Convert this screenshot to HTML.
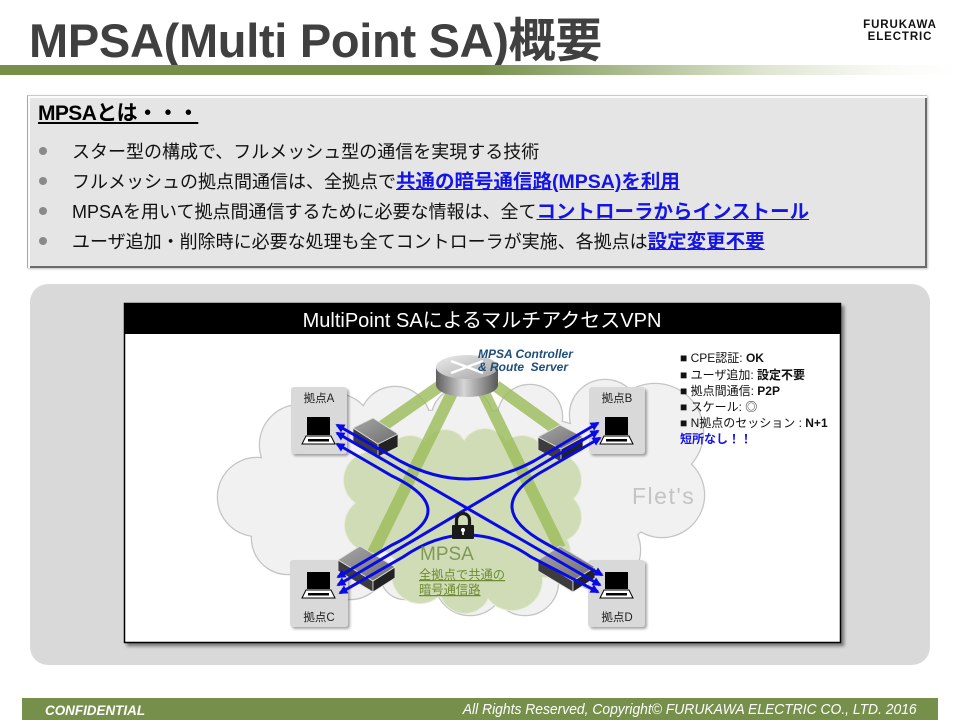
<!DOCTYPE html>
<html><head><meta charset="utf-8">
<style>
*{margin:0;padding:0;box-sizing:border-box}
html,body{width:960px;height:720px;background:#fff;overflow:hidden}
body{position:relative;font-family:"Liberation Sans","Noto Sans CJK JP",sans-serif;color:#000}
.abs{position:absolute}
#title{left:29px;top:17px;font-size:47px;line-height:47px;font-weight:bold;color:#404040;letter-spacing:-0.3px;white-space:nowrap}
#gbar{left:0;top:65px;width:960px;height:10px;background:linear-gradient(to right,#76904c 0%,#76904c 50%,#a3b585 63%,#dfe6d2 80%,#fafbf7 93%,#fff 100%)}
#logo{left:858px;top:19px;width:84px;text-align:center;font-weight:bold;font-size:11.5px;line-height:12px;letter-spacing:0.9px;color:#111}
#box{left:27px;top:95px;width:900px;height:173px;background:#e5e5e5;border-top:1px solid #c8c8c8;border-left:1px solid #a8a8a8;box-shadow:inset 2px 2px 0 #fbfbfb,inset -2px -2px 0 #6a6a6a,1px 1px 2px rgba(0,0,0,.25)}
#boxt{left:38px;top:102px;font-size:21px;line-height:24px;font-weight:bold;text-decoration:underline;letter-spacing:-0.6px;white-space:nowrap}
.bl{position:absolute;left:72px;font-size:18px;line-height:30px;white-space:nowrap;color:#111}
.bl b{font-size:19.5px;color:#1414e6;text-decoration:underline;font-weight:bold}
.dot{position:absolute;left:39px;width:8px;height:8px;border-radius:50%;background:#8a8a8a}
#foot{left:22px;top:698px;width:916px;height:22px;background:#76904c}
#conf{left:45px;top:702px;font-size:14px;line-height:16px;font-weight:bold;font-style:italic;color:#fff;transform:scaleX(0.96);transform-origin:left top;white-space:nowrap}
#copy{right:43px;top:702px;font-size:15px;line-height:16px;font-style:italic;color:#fff;transform:scaleX(0.925);transform-origin:right top;white-space:nowrap}
svg text{font-family:"Liberation Sans","Noto Sans CJK JP",sans-serif}
</style></head><body>

<div id="title" class="abs">MPSA(Multi Point SA)概要</div>
<div id="gbar" class="abs"></div>
<div id="logo" class="abs">FURUKAWA<br>ELECTRIC</div>

<div id="box" class="abs"></div>
<div id="boxt" class="abs">MPSAとは・・・</div>
<div class="dot" style="top:147px"></div>
<div class="dot" style="top:177px"></div>
<div class="dot" style="top:207px"></div>
<div class="dot" style="top:237px"></div>
<div class="bl" style="top:137px">スター型の構成で、フルメッシュ型の通信を実現する技術</div>
<div class="bl" style="top:167px">フルメッシュの拠点間通信は、全拠点で<b>共通の暗号通信路(MPSA)を利用</b></div>
<div class="bl" style="top:197px">MPSAを用いて拠点間通信するために必要な情報は、全て<b>コントローラからインストール</b></div>
<div class="bl" style="top:227px">ユーザ追加・削除時に必要な処理も全てコントローラが実施、各拠点は<b>設定変更不要</b></div>

<svg class="abs" style="left:0;top:0" width="960" height="720" viewBox="0 0 960 720">
<defs>
<filter id="ds" x="-20%" y="-20%" width="150%" height="150%"><feDropShadow dx="2" dy="2" stdDeviation="1.3" flood-color="#000" flood-opacity="0.35"/></filter>
<filter id="ds2" x="-5%" y="-5%" width="110%" height="110%"><feDropShadow dx="3" dy="3" stdDeviation="1.5" flood-color="#000" flood-opacity="0.45"/></filter>
<linearGradient id="cyl" x1="0" x2="1" y1="0" y2="0"><stop offset="0" stop-color="#5e5e5e"/><stop offset="0.45" stop-color="#d6d6d6"/><stop offset="1" stop-color="#585858"/></linearGradient>
<linearGradient id="cyltop" x1="0" y1="0" x2="1" y2="1"><stop offset="0" stop-color="#ececec"/><stop offset="1" stop-color="#a4a4a4"/></linearGradient>
<linearGradient id="dtop" x1="0" y1="0" x2="1" y2="1"><stop offset="0" stop-color="#a6a6a6"/><stop offset="1" stop-color="#6e6e6e"/></linearGradient>
<marker id="ah" viewBox="0 0 10 10" refX="8" refY="5" markerUnits="userSpaceOnUse" markerWidth="10" markerHeight="9" orient="auto-start-reverse"><path d="M0,0 L10,5 L0,10 z" fill="#0a0ae6"/></marker>
<g id="gc">
<circle cx="300" cy="445" r="40"/><circle cx="257" cy="497" r="39"/><circle cx="288" cy="538" r="36"/><circle cx="350" cy="563" r="36"/><circle cx="405" cy="575" r="24"/><circle cx="470" cy="580" r="35"/><circle cx="525" cy="582" r="33"/><circle cx="600" cy="550" r="40"/><circle cx="662" cy="495" r="42"/><circle cx="655" cy="432" r="48"/><circle cx="605" cy="415" r="35"/><circle cx="530" cy="417" r="32"/><circle cx="462" cy="418" r="30"/><circle cx="395" cy="422" r="35"/><circle cx="335" cy="432" r="38"/><ellipse cx="460" cy="495" rx="200" ry="85"/>
</g>
<g id="grc">
<circle cx="372" cy="480" r="28"/><circle cx="372" cy="525" r="27"/><circle cx="410" cy="458" r="22"/><circle cx="445" cy="452" r="22"/><circle cx="485" cy="453" r="24"/><circle cx="522" cy="460" r="24"/><circle cx="555" cy="480" r="26"/><circle cx="556" cy="517" r="25"/><circle cx="545" cy="552" r="25"/><circle cx="512" cy="580" r="30"/><circle cx="465" cy="588" r="25"/><circle cx="420" cy="575" r="28"/><ellipse cx="465" cy="515" rx="95" ry="65"/>
</g>
</defs>

<rect x="30" y="284" width="900" height="381" rx="18" fill="#d9d9d9"/>
<rect x="124.5" y="303.5" width="716" height="339" fill="#fff" stroke="#000" stroke-width="1.5" filter="url(#ds2)"/>
<rect x="124" y="303" width="717" height="31" fill="#000"/>
<text x="482" y="327" text-anchor="middle" font-size="20" fill="#fff">MultiPoint SAによるマルチアクセスVPN</text>

<!-- clouds -->
<use href="#gc" fill="#c4c4c4" stroke="#c4c4c4" stroke-width="2.5"/>
<use href="#gc" fill="#f1f1f1"/>
<use href="#grc" fill="#e6ecda" stroke="#e6ecda" stroke-width="2"/>
<use href="#grc" fill="#cfdcb5"/>
<text x="632" y="504" font-size="23" fill="#c4c4c4" letter-spacing="1.5">Flet's</text>

<!-- green stripes -->
<g stroke="#9bbb59" stroke-opacity="0.8" stroke-width="12">
<line x1="440" y1="386" x2="367" y2="437"/>
<line x1="452" y1="393" x2="373" y2="553"/>
<line x1="484" y1="393" x2="560" y2="548"/>
<line x1="496" y1="386" x2="560" y2="432"/>
</g>

<!-- router -->
<path d="M436,367 L436,385 A31,12 0 0 0 498,385 L498,367 Z" fill="url(#cyl)"/>
<ellipse cx="467" cy="367" rx="31" ry="12" fill="url(#cyltop)"/>
<g stroke="#fff" stroke-width="2.5" fill="#fff">
<line x1="451" y1="361" x2="483" y2="373"/><line x1="451" y1="373" x2="483" y2="361"/>
</g>
<text x="478" y="358" font-size="12" font-weight="bold" font-style="italic" fill="#1f4e79">MPSA Controller</text>
<text x="478" y="371" font-size="12" font-weight="bold" font-style="italic" fill="#1f4e79" xml:space="preserve">&amp; Route  Server</text>

<!-- site boxes -->
<g fill="#d9d9d9" filter="url(#ds)">
<rect x="291" y="387" width="56" height="67" rx="3"/>
<rect x="589" y="387" width="56" height="67" rx="3"/>
<rect x="290" y="560" width="58" height="67" rx="3"/>
<rect x="588" y="560" width="57" height="67" rx="3"/>
</g>
<g font-size="11.5" fill="#222" text-anchor="middle">
<text x="319" y="402">拠点A</text>
<text x="617" y="402">拠点B</text>
<text x="319" y="621">拠点C</text>
<text x="617" y="621">拠点D</text>
</g>

<!-- laptops -->
<g>
<rect x="307" y="417" width="23" height="18" fill="#000"/>
<polygon points="306,436 331,436 335,444 302,444" fill="#fff" stroke="#000"/>
<rect x="308" y="439" width="21" height="2.5" fill="#000"/>
<rect x="605" y="417" width="23" height="18" fill="#000"/>
<polygon points="604,436 629,436 633,444 600,444" fill="#fff" stroke="#000"/>
<rect x="606" y="439" width="21" height="2.5" fill="#000"/>
<rect x="307" y="572" width="23" height="17" fill="#000"/>
<polygon points="306,590 331,590 335,598 302,598" fill="#fff" stroke="#000"/>
<rect x="308" y="593" width="21" height="2.5" fill="#000"/>
<rect x="605" y="572" width="23" height="17" fill="#000"/>
<polygon points="604,590 629,590 633,598 600,598" fill="#fff" stroke="#000"/>
<rect x="606" y="593" width="21" height="2.5" fill="#000"/>
</g>

<!-- devices -->
<g stroke="#e0e0e0" stroke-width="0.8" stroke-linejoin="round">
<polygon points="353,428 378,444 378,457 353,441" fill="#3c3c3c"/>
<polygon points="378,444 398,434 398,447 378,457" fill="#222"/>
<polygon points="353,428 373,418 398,434 378,444" fill="url(#dtop)"/>
<polygon points="538,437 561,449 561,462 538,450" fill="#3c3c3c"/>
<polygon points="561,449 583,437 583,450 561,462" fill="#222"/>
<polygon points="538,437 560,425 583,437 561,449" fill="url(#dtop)"/>
<polygon points="338,560 373,581 373,592 338,571" fill="#3c3c3c"/>
<polygon points="373,581 395,567 395,578 373,592" fill="#222"/>
<polygon points="338,560 360,546 395,567 373,581" fill="url(#dtop)"/>
<polygon points="538,560 573,581 573,592 538,571" fill="#3c3c3c"/>
<polygon points="573,581 595,567 595,578 573,592" fill="#222"/>
<polygon points="538,560 560,546 595,567 573,581" fill="url(#dtop)"/>
</g>

<!-- blue arrows -->
<g fill="none" stroke="#0a0ae6" stroke-width="3" marker-start="url(#ah)" marker-end="url(#ah)">
<path d="M337,433 L600,585"/>
<path d="M598,431 L338,585"/>
<path d="M337,425 L400,461 Q467,497 534,461 L598,423"/>
<path d="M340,593 L403,557 Q467,513 531,557 L598,592"/>
<path d="M337,444 L392,476 Q464,510.5 392,545 L338,577"/>
<path d="M600,438 L545,470 Q479,506.5 545,543 L602,575"/>
</g>

<!-- lock -->
<path d="M456.5,526 V520 A6.5,6.5 0 0 1 469.5,520 V526" fill="none" stroke="#1a1a1a" stroke-width="3.2"/>
<rect x="452" y="525" width="22" height="14" rx="1" fill="#1a1a1a"/>
<circle cx="463" cy="530" r="2" fill="#fff"/>
<rect x="462.2" y="530" width="1.6" height="5" fill="#fff"/>

<text x="420" y="560" font-size="19" fill="#7f9a55">MPSA</text>
<text x="419" y="579" font-size="12.3" fill="#6e8b33" text-decoration="underline">全拠点で共通の</text>
<text x="419" y="594" font-size="12.3" fill="#6e8b33" text-decoration="underline">暗号通信路</text>

<!-- info list -->
<g font-size="12" fill="#111">
<text x="680" y="362">■ CPE認証: <tspan font-weight="bold">OK</tspan></text>
<text x="680" y="379">■ ユーザ追加: <tspan font-weight="bold">設定不要</tspan></text>
<text x="680" y="395">■ 拠点間通信:  <tspan font-weight="bold">P2P</tspan></text>
<text x="680" y="411">■ スケール: ◎</text>
<text x="680" y="427">■ N拠点のセッション : <tspan font-weight="bold">N+1</tspan></text>
<text x="680" y="443" font-weight="bold" fill="#1414e6">短所なし！！</text>
</g>
</svg>

<div id="foot" class="abs"></div>
<div id="conf" class="abs">CONFIDENTIAL</div>
<div id="copy" class="abs">All Rights Reserved,  Copyright© FURUKAWA ELECTRIC CO., LTD. 2016</div>
</body></html>
